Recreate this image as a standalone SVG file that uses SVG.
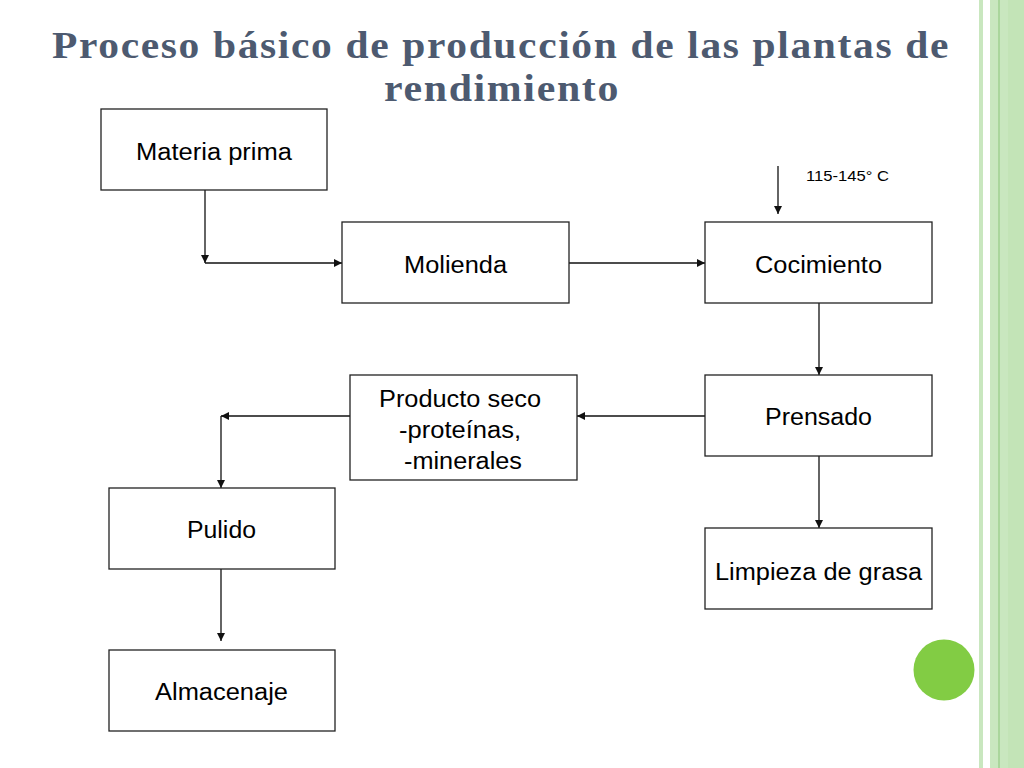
<svg xmlns="http://www.w3.org/2000/svg" width="1024" height="768" viewBox="0 0 1024 768">
<style>
.box{fill:#fff;stroke:#222;stroke-width:1.3}
.t{font-family:"Liberation Sans",Arial,sans-serif;font-size:23px;fill:#000;text-anchor:middle}
.c{fill:none;stroke:#111;stroke-width:1.3}
.title{font-family:"Liberation Serif","Times New Roman",serif;font-weight:bold;font-size:38px;fill:#4d5a70;text-anchor:middle;letter-spacing:1.5px}
</style>
<defs>
<marker id="ah" viewBox="0 0 10 10" refX="10" refY="5" markerWidth="8" markerHeight="8" markerUnits="userSpaceOnUse" orient="auto">
<path d="M0,0 L10,5 L0,10 z" fill="#111"/>
</marker>
</defs>
<rect width="1024" height="768" fill="#fff"/>
<g id="border">
<rect x="979" y="0" width="4" height="768" fill="#c9e7bf"/>
<rect x="990" y="0" width="34" height="768" fill="#c9e7bf"/>
<rect x="998.5" y="0" width="1" height="768" fill="#8cc57a"/>
<rect x="1008" y="0" width="16" height="768" fill="#c3e4b7"/>
<circle cx="944" cy="670" r="30.5" fill="#82cc44"/>
</g>
<g id="title">
<text class="title" x="501" y="58" textLength="898" lengthAdjust="spacingAndGlyphs">Proceso básico de producción de las plantas de</text>
<text class="title" x="502" y="101" textLength="236" lengthAdjust="spacingAndGlyphs">rendimiento</text>
</g>
<g id="connectors">
<path class="c" d="M205,190 V263" marker-end="url(#ah)"/>
<path class="c" d="M205,263 H342" marker-end="url(#ah)"/>
<path class="c" d="M569,263 H705" marker-end="url(#ah)"/>
<path class="c" d="M778,166 V214" marker-end="url(#ah)"/>
<path class="c" d="M819,303 V375" marker-end="url(#ah)"/>
<path class="c" d="M705,416 H577" marker-end="url(#ah)"/>
<path class="c" d="M350,416 H221" marker-end="url(#ah)"/>
<path class="c" d="M221,416 V488" marker-end="url(#ah)"/>
<path class="c" d="M819,456 V528" marker-end="url(#ah)"/>
<path class="c" d="M221,569 V641" marker-end="url(#ah)"/>
<text x="806" y="181" font-family="Liberation Sans,Arial,sans-serif" font-size="15" textLength="83" lengthAdjust="spacingAndGlyphs">115-145° C</text>
</g>
<g id="materia-prima"><rect class="box" x="101" y="109" width="226" height="81"/><text class="t" x="214" y="160" textLength="156" lengthAdjust="spacingAndGlyphs">Materia prima</text></g>
<g id="molienda"><rect class="box" x="342" y="222" width="227" height="81"/><text class="t" x="455.5" y="273" textLength="103" lengthAdjust="spacingAndGlyphs">Molienda</text></g>
<g id="cocimiento"><rect class="box" x="705" y="222" width="227" height="81"/><text class="t" x="818.5" y="273" textLength="127" lengthAdjust="spacingAndGlyphs">Cocimiento</text></g>
<g id="prensado"><rect class="box" x="705" y="375" width="227" height="81"/><text class="t" x="818.5" y="425" textLength="107" lengthAdjust="spacingAndGlyphs">Prensado</text></g>
<g id="producto-seco"><rect class="box" x="350" y="375" width="227" height="105"/>
<text class="t" x="460" y="407" textLength="162" lengthAdjust="spacingAndGlyphs">Producto seco</text>
<text class="t" x="460" y="438" textLength="122" lengthAdjust="spacingAndGlyphs">-proteínas,</text>
<text class="t" x="463" y="469" textLength="118" lengthAdjust="spacingAndGlyphs">-minerales</text></g>
<g id="pulido"><rect class="box" x="109" y="488" width="226" height="81"/><text class="t" x="221.5" y="538" textLength="69" lengthAdjust="spacingAndGlyphs">Pulido</text></g>
<g id="limpieza"><rect class="box" x="705" y="528" width="227" height="81"/><text class="t" x="818.5" y="580" textLength="207" lengthAdjust="spacingAndGlyphs">Limpieza de grasa</text></g>
<g id="almacenaje"><rect class="box" x="109" y="650" width="226" height="81"/><text class="t" x="221.5" y="700" textLength="133" lengthAdjust="spacingAndGlyphs">Almacenaje</text></g>
</svg>
